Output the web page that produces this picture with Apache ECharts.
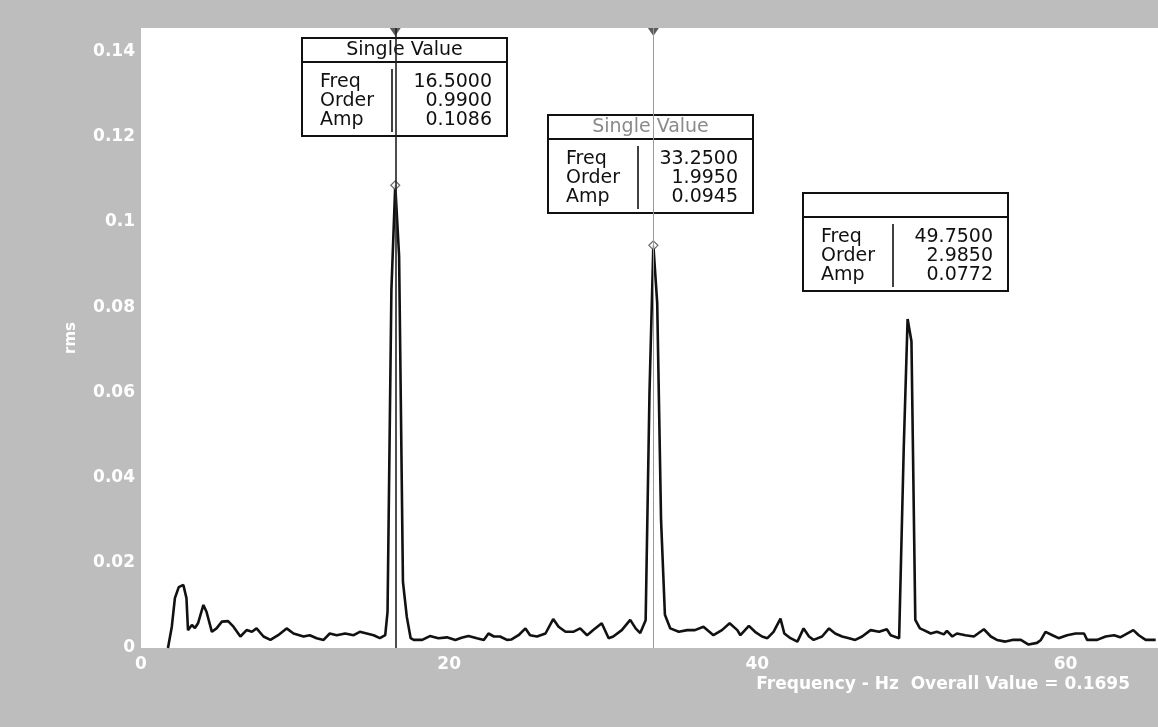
<!DOCTYPE html>
<html>
<head>
<meta charset="utf-8">
<script src="https://cdn.jsdelivr.net/npm/echarts@6/dist/echarts.min.js"></script>
<style>
  html, body { margin: 0; padding: 0; background: #bdbdbd; }
  #chart { width: 1158px; height: 727px; }
</style>
</head>
<body>
<div id="chart"></div>
<script>
// Spectrum: frequency (Hz) and RMS amplitude
const freqHz = [
  1.75, 2.0, 2.2, 2.45, 2.75, 2.95, 3.05, 3.3, 3.5, 3.7, 4.05, 4.25, 4.6, 4.9, 5.25, 5.65, 6.0, 6.45, 6.85, 7.2,
  7.5, 7.95, 8.4, 8.9, 9.45, 9.9, 10.55, 10.95, 11.4, 11.85, 12.25, 12.7, 13.25, 13.8, 14.2, 14.65, 15.1, 15.5, 15.85, 16.0,
  16.25, 16.5, 16.75, 17.0, 17.25, 17.5, 17.7, 18.25, 18.75, 19.3, 19.85, 20.4, 20.8, 21.25, 21.8, 22.25, 22.55, 22.9, 23.3, 23.75,
  24.05, 24.5, 24.95, 25.25, 25.7, 26.25, 26.75, 27.1, 27.55, 28.05, 28.5, 28.95, 29.35, 29.9, 30.35, 30.65, 31.2, 31.75, 32.1, 32.4,
  32.75, 33.0, 33.25, 33.5, 33.75, 34.0, 34.35, 34.9, 35.45, 35.95, 36.5, 37.15, 37.7, 38.2, 38.7, 38.9, 39.45, 39.85, 40.3, 40.65,
  41.05, 41.5, 41.75, 42.15, 42.6, 43.0, 43.35, 43.65, 44.2, 44.65, 45.05, 45.5, 45.95, 46.35, 46.8, 47.35, 47.9, 48.4, 48.65, 49.2,
  49.5, 49.75, 50.0, 50.25, 50.55, 50.8, 51.25, 51.65, 52.1, 52.3, 52.65, 52.95, 53.5, 54.05, 54.7, 55.15, 55.55, 56.1, 56.55, 57.1,
  57.6, 58.15, 58.4, 58.7, 59.15, 59.55, 60.1, 60.65, 61.2, 61.4, 62.05, 62.6, 63.15, 63.55, 63.9, 64.4, 64.75, 65.2, 65.85
];
const ampRms = [
  0.0000, 0.0050, 0.0117, 0.0143, 0.0148, 0.0117, 0.0042, 0.0054, 0.0047, 0.0058, 0.0101, 0.0085, 0.0038, 0.0046, 0.0062, 0.0063, 0.0050, 0.0027, 0.0042, 0.0038,
  0.0046, 0.0027, 0.0019, 0.0030, 0.0046, 0.0034, 0.0027, 0.0030, 0.0023, 0.0019, 0.0034, 0.0030, 0.0034, 0.0030, 0.0038, 0.0034, 0.0030, 0.0023, 0.0030, 0.0085,
  0.0840, 0.1086, 0.0920, 0.0155, 0.0073, 0.0023, 0.0019, 0.0019, 0.0028, 0.0023, 0.0025, 0.0019, 0.0024, 0.0028, 0.0023, 0.0019, 0.0034, 0.0027, 0.0027, 0.0019,
  0.0020, 0.0030, 0.0046, 0.0030, 0.0027, 0.0034, 0.0068, 0.0050, 0.0038, 0.0038, 0.0046, 0.0030, 0.0042, 0.0058, 0.0023, 0.0027, 0.0042, 0.0066, 0.0046, 0.0035,
  0.0065, 0.0600, 0.0945, 0.0810, 0.0300, 0.0078, 0.0046, 0.0038, 0.0042, 0.0042, 0.0050, 0.0030, 0.0042, 0.0058, 0.0042, 0.0030, 0.0052, 0.0038, 0.0027, 0.0023,
  0.0038, 0.0069, 0.0034, 0.0023, 0.0015, 0.0046, 0.0027, 0.0019, 0.0027, 0.0046, 0.0034, 0.0027, 0.0023, 0.0019, 0.0027, 0.0042, 0.0038, 0.0044, 0.0030, 0.0023,
  0.0470, 0.0772, 0.0720, 0.0066, 0.0046, 0.0042, 0.0034, 0.0038, 0.0032, 0.0040, 0.0027, 0.0034, 0.0030, 0.0027, 0.0044, 0.0027, 0.0019, 0.0015, 0.0019, 0.0019,
  0.0008, 0.0012, 0.0019, 0.0038, 0.0030, 0.0023, 0.0030, 0.0034, 0.0034, 0.0019, 0.0019, 0.0027, 0.0030, 0.0025, 0.0032, 0.0042, 0.0030, 0.0019, 0.0019
];

// Cursor read-outs
const peakFreq = [16.5, 33.25, 49.75];
const peakOrder = [0.99, 1.995, 2.985];
const peakAmp = [0.1086, 0.0945, 0.0772];
const boxTitles = ['Single Value', 'Single Value', ''];
const rowNames = ['Freq', 'Order', 'Amp'];
const overallValue = 0.1695;
const xAxisTitle = 'Frequency - Hz  Overall Value = ' + overallValue.toFixed(4);
const yAxisTitle = 'rms';

const Y_MAX = 0.1455;
const series = freqHz.map((f, i) => [f, ampRms[i]]);

const boxFont = '19px "DejaVu Sans", sans-serif';

// One cursor read-out panel: title strip, then name | value rows
function readoutBox(left, top, idx, titleColor) {
  const W = 205, H = 98;
  const vals = [peakFreq[idx], peakOrder[idx], peakAmp[idx]].map(v => v.toFixed(4));
  const children = [
    { type: 'rect', shape: { x: 0, y: 0, width: W, height: H },
      style: { fill: '#ffffff', stroke: '#111', lineWidth: 2 } },
    { type: 'line', shape: { x1: 0, y1: 24, x2: W, y2: 24 },
      style: { stroke: '#111', lineWidth: 2 } },
    { type: 'line', shape: { x1: 90, y1: 31, x2: 90, y2: H - 4 },
      style: { stroke: '#111', lineWidth: 1.6 } },
    { type: 'text', x: W / 2, y: 12,
      style: { text: boxTitles[idx], font: boxFont, fill: titleColor, align: 'center', verticalAlign: 'middle' } }
  ];
  rowNames.forEach((name, r) => {
    const cy = 44 + r * 19;
    children.push({ type: 'text', x: 18, y: cy,
      style: { text: name, font: boxFont, fill: '#111', align: 'left', verticalAlign: 'middle' } });
    children.push({ type: 'text', x: 190, y: cy,
      style: { text: vals[r], font: boxFont, fill: '#111', align: 'right', verticalAlign: 'middle' } });
  });
  return { type: 'group', x: left, y: top, z: 100, children: children };
}

const chart = echarts.init(document.getElementById('chart'), null, { renderer: 'canvas' });

chart.setOption({
  backgroundColor: '#bdbdbd',
  animation: false,
  grid: {
    left: 141, top: 28, width: 1017, height: 620,
    show: true, backgroundColor: '#ffffff', borderWidth: 0
  },
  xAxis: {
    type: 'value', min: 0, max: 66, interval: 20,
    axisLine: { show: false }, axisTick: { show: false }, splitLine: { show: false },
    axisLabel: {
      showMaxLabel: false, margin: 8,
      color: '#ffffff', fontFamily: '"DejaVu Sans", sans-serif', fontWeight: 'bold', fontSize: 17
    }
  },
  yAxis: {
    type: 'value', min: 0, max: Y_MAX, interval: 0.02,
    name: yAxisTitle, nameLocation: 'middle', nameGap: 62, nameRotate: 90,
    nameTextStyle: { color: '#ffffff', fontFamily: '"DejaVu Sans", sans-serif', fontWeight: 'bold', fontSize: 15 },
    axisLine: { show: false }, axisTick: { show: false }, splitLine: { show: false },
    axisLabel: {
      showMaxLabel: false, margin: 6,
      color: '#ffffff', fontFamily: '"DejaVu Sans", sans-serif', fontWeight: 'bold', fontSize: 17,
      formatter: v => (v === 0 ? '0' : String(+v.toFixed(2)))
    }
  },
  graphic: [
    readoutBox(302, 38, 0, '#111'),
    readoutBox(548, 115, 1, '#8a8a8a'),
    readoutBox(803, 193, 2, '#111'),
    { type: 'text', right: 28, top: 676, z: 100,
      style: { text: xAxisTitle, fill: '#ffffff', font: 'bold 17px "DejaVu Sans", sans-serif' } }
  ],
  series: [
    {
      name: 'spectrum', type: 'line', data: series,
      symbol: 'none', smooth: false, z: 3,
      lineStyle: { color: '#111', width: 2.6 },
      markLine: {
        silent: true, symbol: ['none', 'none'], label: { show: false },
        data: [
          { xAxis: peakFreq[0], lineStyle: { color: '#222', width: 1.6, type: 'solid' } },
          { xAxis: peakFreq[1], lineStyle: { color: '#9a9a9a', width: 1, type: 'solid' } }
        ]
      }
    },
    {
      name: 'cursor', type: 'scatter', z: 4,
      data: [[peakFreq[0], peakAmp[0]], [peakFreq[1], peakAmp[1]]],
      symbol: 'diamond', symbolSize: 9,
      itemStyle: { color: '#ffffff', borderColor: '#444', borderWidth: 1.2 }
    },
    {
      name: 'cursorHead', type: 'scatter', z: 4, clip: false,
      data: [[peakFreq[0], Y_MAX], [peakFreq[1], Y_MAX]],
      symbol: 'triangle', symbolRotate: 180, symbolSize: [11, 8], symbolOffset: [0, 4],
      itemStyle: { color: '#333' }
    }
  ]
});
</script>
</body>
</html>
